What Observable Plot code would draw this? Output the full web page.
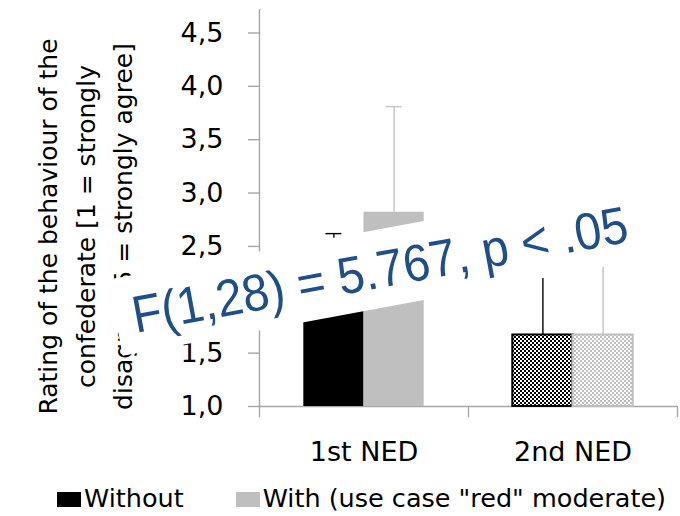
<!DOCTYPE html>
<html>
<head>
<meta charset="utf-8">
<script src="https://cdn.jsdelivr.net/npm/d3@7"></script>
<script src="https://cdn.jsdelivr.net/npm/@observablehq/plot@0.6"></script>
<style>
html, body { margin: 0; padding: 0; background: #fff; }
#chart { width: 680px; height: 516px; overflow: hidden; background: #fff; }
#chart svg { display: block; }
.legend { height: 46px; box-sizing: border-box; padding: 13px 0 0 57px; font-family: "DejaVu Sans", sans-serif; font-size: 25.5px; line-height: 30px; color: #000; white-space: nowrap; }
.sw { display: inline-block; width: 24px; height: 15px; margin-right: 3px; vertical-align: baseline; }
</style>
</head>
<body>
<div id="chart"></div>
<script>
// ---- data ----
const categories = ["1st NED", "2nd NED"];
const seriesNames = ["Without", "With (use case \"red\" moderate)"];
const meanWithout = [2.0, 1.67];
const meanWith = [2.82, 1.67];
const errWithout = [0.62, 0.80];
const errWith = [0.99, 0.85];
const yTicks = [1.0, 1.5, 2.0, 2.5, 3.0, 3.5, 4.0, 4.5];
const yTitle = ["Rating of the behaviour of the", "confederate [1 = strongly", "disagree, 5 = strongly agree]"];
const statLabel = "F(1,28) = 5.767, p < .05";

// ---- styling ----
const AX = "#a6a6a6";
const solidFill = ["#000000", "#bfbfbf"];
const patternFill = ["url(#chkBlack)", "url(#chkGray)"];
const edgeColor = ["#000000", "#bfbfbf"];
const errColor = ["#000000", "#c4c4c4"];
const BW = 0.288; // bar width, fraction of a category band

const means = [meanWithout, meanWith];
const errs = [errWithout, errWith];
const rows = [];
categories.forEach((c, i) => {
  means.forEach((m, s) => {
    rows.push({
      cat: c, i, s,
      value: m[i],
      top: m[i] + errs[s][i],
      x1: i + 0.5 - (s === 0 ? BW : 0),
      x2: i + 0.5 + (s === 0 ? 0 : BW),
      xc: i + 0.5 + (s === 0 ? -BW / 2 : BW / 2),
      fill: i === 0 ? solidFill[s] : patternFill[s],
      stroke: i === 0 ? "none" : edgeColor[s],
      err: errColor[s]
    });
  });
});

const chart = Plot.plot({
  width: 680,
  height: 470,
  marginLeft: 259,
  marginRight: 3,
  marginTop: 9,
  marginBottom: 64,
  style: {fontFamily: "DejaVu Sans, sans-serif", fontSize: "27px", color: "#000", background: "#fff"},
  x: {domain: [0, categories.length], label: null},
  y: {domain: [1, 4.72], label: null},
  color: {type: "identity"},
  marks: [
    Plot.ruleY([1], {stroke: AX, strokeWidth: 1.4}),
    Plot.ruleX([0], {stroke: AX, strokeWidth: 1.4}),
    Plot.axisY({ticks: yTicks, tickSize: 11, tickPadding: 25, tickFormat: d => d.toFixed(1).replace(".", ","), stroke: AX, strokeWidth: 1.4, fill: "#000", fontSize: 27}),
    Plot.axisX({ticks: d3.range(categories.length + 1), tickSize: 11, tickFormat: () => "", stroke: AX, strokeWidth: 1.4}),
    Plot.axisX({ticks: categories.map((c, i) => i + 0.5), tickSize: 0, tickPadding: 35, tickFormat: d => categories[Math.floor(d)], fill: "#000", fontSize: 27}),
    Plot.rectY(rows, {x1: "x1", x2: "x2", y1: 1, y2: "value", fill: "fill", stroke: "stroke", strokeWidth: 2}),
    Plot.ruleX(rows, {x: "xc", y1: "value", y2: "top", stroke: "err", strokeWidth: 1.4}),
    Plot.ruleY(rows, {y: "top", x1: "xc", x2: "xc", insetLeft: -8, insetRight: -8, stroke: "err", strokeWidth: 1.4}),
    Plot.text([yTitle.join("\n")], {frameAnchor: "left", textAnchor: "middle", lineAnchor: "middle", rotate: -90, dx: -177, dy: 18.5, fontSize: 25, lineHeight: 1.5, fill: "#000"}),
    Plot.text([statLabel], {frameAnchor: "middle", textAnchor: "middle", lineAnchor: "middle", dx: -88.5, dy: 62.9, rotate: -10.5, fontSize: 52, fontFamily: "Liberation Sans, Arial, sans-serif", fill: "#1f4e88"})
  ]
});

const root = document.getElementById("chart");
root.append(chart);

// patterns for the 2nd NED bars
const ns = "http://www.w3.org/2000/svg";
const defs = document.createElementNS(ns, "defs");
defs.innerHTML =
  '<pattern id="chkBlack" width="4" height="4" patternUnits="userSpaceOnUse">' +
  '<rect width="4" height="4" fill="#000"/><rect width="2" height="2" fill="#fff"/><rect x="2" y="2" width="2" height="2" fill="#fff"/></pattern>' +
  '<pattern id="chkGray" width="4" height="4" patternUnits="userSpaceOnUse">' +
  '<rect width="4" height="4" fill="#fff"/><rect width="2" height="2" fill="#bdbdbd"/><rect x="2" y="2" width="2" height="2" fill="#bdbdbd"/></pattern>';
chart.insertBefore(defs, chart.firstChild);

// condense the statistic horizontally and put a white box behind it
const statText = [...chart.querySelectorAll("text")].find(t => t.textContent === statLabel);
if (statText) {
  statText.setAttribute("textLength", 503);
  statText.setAttribute("lengthAdjust", "spacingAndGlyphs");
  const bb = statText.getBBox();
  const r = document.createElementNS(ns, "rect");
  r.setAttribute("x", bb.x - 17);
  r.setAttribute("y", bb.y - 10.7);
  r.setAttribute("width", bb.width + 34);
  r.setAttribute("height", bb.height + 19.7);
  r.setAttribute("fill", "#fff");
  const tf = statText.getAttribute("transform");
  if (tf) r.setAttribute("transform", tf);
  statText.parentNode.insertBefore(r, statText);
}

// legend
const legend = document.createElement("div");
legend.className = "legend";
seriesNames.forEach((name, s) => {
  const sw = document.createElement("span");
  sw.className = "sw";
  sw.style.background = solidFill[s];
  if (s > 0) sw.style.marginLeft = "52px";
  legend.append(sw, document.createTextNode(name));
});
root.append(legend);
</script>
</body>
</html>
